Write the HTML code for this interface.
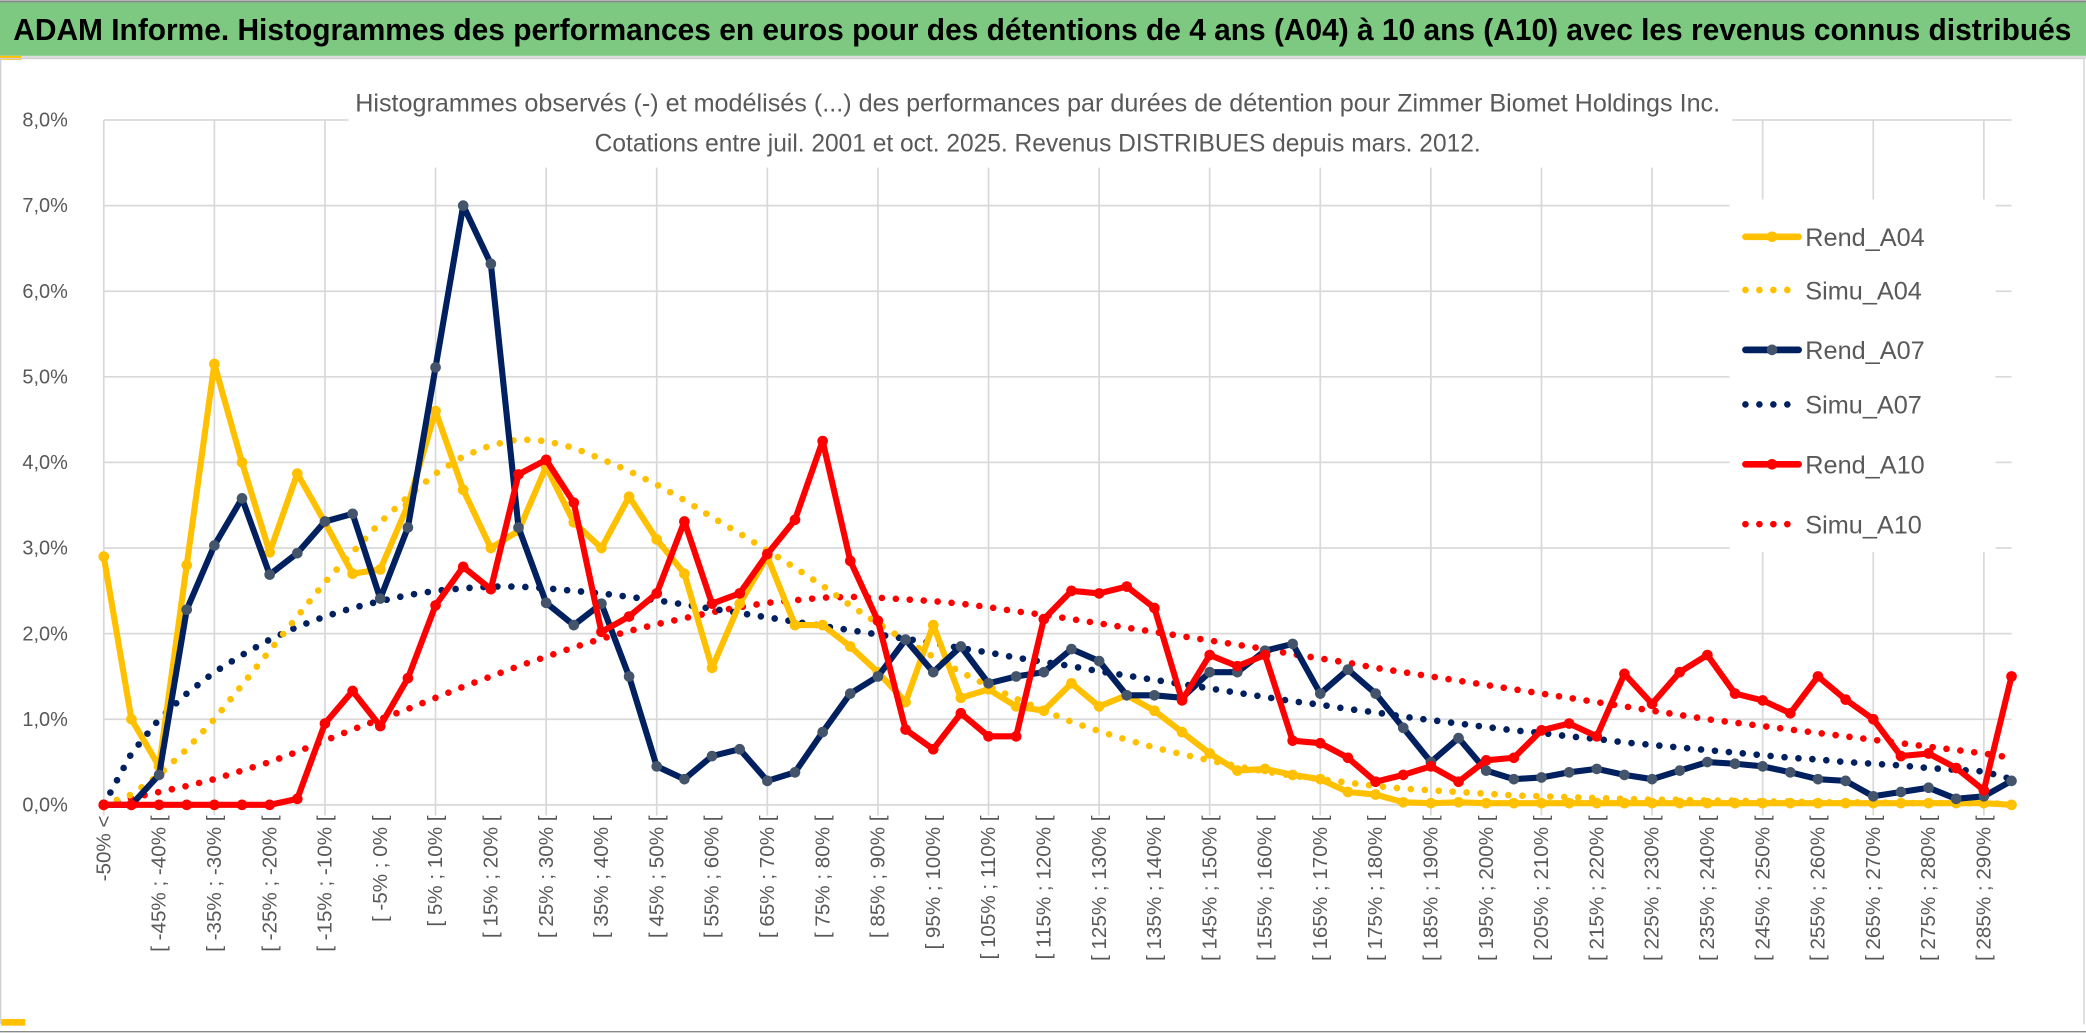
<!DOCTYPE html>
<html><head><meta charset="utf-8"><style>
html,body{margin:0;padding:0;background:#fff;}
svg{display:block;font-family:"Liberation Sans",sans-serif;}
</style></head><body>
<svg id="chart" width="2086" height="1033" viewBox="0 0 1568 776.5" preserveAspectRatio="none" xmlns="http://www.w3.org/2000/svg">
<rect x="0" y="0" width="1568" height="776.5" fill="#fff"/>
<rect x="0" y="1" width="1568" height="41" fill="#7dc981"/>
<line x1="0" y1="1" x2="1568" y2="1" stroke="#888" stroke-width="1.5"/>
<text x="10" y="30" font-size="23" font-weight="bold" fill="#000" textLength="1547" lengthAdjust="spacingAndGlyphs">ADAM Informe. Histogrammes des performances en euros pour des détentions de 4 ans (A04) à 10 ans (A10) avec les revenus connus distribués</text>
<rect x="0" y="42" width="1568" height="2" fill="#ddd"/>
<rect x="0" y="42" width="16" height="3" fill="#ffc000"/>
<rect x="0.5" y="44" width="1566" height="729" fill="none" stroke="#d0d0d0" stroke-width="1"/>
<rect x="0" y="770" width="1568" height="6" fill="#fff"/>
<line x1="0" y1="775.5" x2="1568" y2="775.5" stroke="#888" stroke-width="1"/>
<rect x="1" y="766" width="18" height="5" fill="#ffc000"/>
<g id="grid"></g>
<rect x="262" y="58" width="1040" height="68" fill="#fff"/>
<text x="780" y="84" font-size="19" fill="#595959" text-anchor="middle" textLength="1026" lengthAdjust="spacingAndGlyphs">Histogrammes observés (-) et modélisés (...) des performances par durées de détention pour Zimmer Biomet Holdings Inc.</text>
<text x="780" y="114" font-size="19" fill="#595959" text-anchor="middle" textLength="666" lengthAdjust="spacingAndGlyphs">Cotations entre juil. 2001 et oct. 2025. Revenus DISTRIBUES depuis mars. 2012.</text>
<g id="series"></g>
<g id="legend"></g>
</svg>
<script>
const rendA04=[2.9,1.0,0.45,2.8,5.15,4.0,2.95,3.87,3.3,2.7,2.75,3.5,4.6,3.68,3.0,3.2,3.95,3.3,3.0,3.6,3.1,2.7,1.6,2.35,2.9,2.1,2.1,1.85,1.55,1.2,2.1,1.25,1.35,1.15,1.1,1.42,1.15,1.28,1.1,0.85,0.6,0.4,0.42,0.35,0.3,0.15,0.12,0.03,0.02,0.03,0.02,0.02,0.02,0.02,0.02,0.02,0.02,0.02,0.02,0.02,0.02,0.02,0.02,0.02,0.02,0.02,0.02,0.02,0.02,0.0];
const rendA07=[0,0,0.35,2.28,3.03,3.58,2.69,2.94,3.31,3.4,2.41,3.24,5.11,7.0,6.32,3.24,2.36,2.1,2.35,1.5,0.45,0.3,0.57,0.65,0.28,0.38,0.85,1.3,1.5,1.93,1.55,1.85,1.42,1.5,1.55,1.82,1.68,1.28,1.28,1.25,1.55,1.55,1.8,1.88,1.3,1.58,1.3,0.9,0.5,0.78,0.4,0.3,0.32,0.38,0.42,0.35,0.3,0.4,0.5,0.48,0.45,0.38,0.3,0.28,0.1,0.15,0.2,0.07,0.1,0.28];
const rendA10=[0,0,0,0,0,0,0,0.07,0.95,1.33,0.92,1.48,2.33,2.78,2.52,3.86,4.03,3.53,2.02,2.2,2.47,3.31,2.35,2.47,2.93,3.33,4.25,2.85,2.15,0.88,0.65,1.07,0.8,0.8,2.17,2.5,2.47,2.55,2.3,1.22,1.75,1.62,1.75,0.75,0.72,0.55,0.27,0.35,0.45,0.27,0.52,0.55,0.87,0.95,0.8,1.53,1.18,1.55,1.75,1.3,1.22,1.07,1.5,1.23,1.0,0.57,0.6,0.43,0.17,1.5];
const simuA04=[0.0,0.12,0.35,0.65,1.0,1.4,1.8,2.2,2.6,2.95,3.3,3.6,3.87,4.07,4.2,4.27,4.25,4.17,4.04,3.9,3.74,3.56,3.36,3.17,2.97,2.77,2.56,2.33,2.12,1.92,1.73,1.55,1.39,1.24,1.1,0.97,0.86,0.76,0.67,0.59,0.52,0.45,0.39,0.34,0.3,0.26,0.22,0.19,0.17,0.15,0.13,0.11,0.1,0.09,0.08,0.07,0.06,0.06,0.05,0.05,0.04,0.04,0.03,0.03,0.03,0.02,0.02,0.02,0.02,0.01];
const simuA07=[0.0,0.6,1.0,1.3,1.55,1.75,1.93,2.08,2.2,2.3,2.38,2.45,2.5,2.53,2.55,2.55,2.53,2.5,2.47,2.43,2.39,2.34,2.29,2.24,2.19,2.14,2.09,2.04,1.99,1.94,1.89,1.83,1.78,1.72,1.67,1.62,1.56,1.51,1.46,1.41,1.36,1.31,1.26,1.21,1.17,1.12,1.08,1.03,0.99,0.95,0.91,0.87,0.84,0.8,0.77,0.73,0.7,0.67,0.64,0.61,0.58,0.55,0.53,0.5,0.48,0.46,0.43,0.41,0.39,0.3];
const simuA10=[0.0,0.08,0.15,0.22,0.3,0.4,0.5,0.62,0.75,0.88,1.0,1.12,1.25,1.38,1.5,1.62,1.73,1.84,1.94,2.03,2.11,2.18,2.25,2.31,2.36,2.39,2.42,2.43,2.42,2.4,2.38,2.35,2.31,2.26,2.22,2.17,2.12,2.07,2.02,1.97,1.92,1.87,1.82,1.76,1.71,1.66,1.6,1.55,1.5,1.45,1.4,1.35,1.3,1.25,1.2,1.15,1.1,1.05,1.0,0.96,0.92,0.88,0.84,0.8,0.76,0.72,0.68,0.64,0.6,0.55];
const yTicks=[0,1,2,3,4,5,6,7,8];
const categories=["-50% <"];
for(let k=1;k<70;k++){categories.push("[ "+(-55+5*k)+"% ; "+(-50+5*k)+"% [");}

const NS="http://www.w3.org/2000/svg";
const X0=78, X1=1512, Y0=605, YPER=64.35;
function xs(i){return X0+i*(X1-X0)/(categories.length-1);}
function ys(v){return Y0-v*YPER;}
function mk(tag,attrs,parent){const e=document.createElementNS(NS,tag);for(const k in attrs)e.setAttribute(k,attrs[k]);parent.appendChild(e);return e;}

const grid=document.getElementById('grid');
yTicks.forEach(t=>{
  const l=mk('line',{x1:X0,x2:X1,y1:ys(t),y2:ys(t),stroke:'#d9d9d9','stroke-width':1.3},grid);
  
  
  const tx=mk('text',{x:X0-27,y:ys(t)+5,'font-size':15,fill:'#595959','text-anchor':'end'},grid);
  tx.textContent=t.toFixed(1).replace('.',',')+'%';
  
  
});
categories.forEach((c,i)=>{
  if(i%4===0){
    const l=mk('line',{x1:xs(i),x2:xs(i),y1:ys(8),y2:Y0+8,stroke:'#d9d9d9','stroke-width':1.3},grid);
    
    
  }
  if(i%2===0){
    const x=xs(i)+5, y=Y0+8;
    const tx=mk('text',{x:x,y:y,'font-size':15.5,fill:'#595959','text-anchor':'end',transform:'rotate(-90 '+x+' '+y+')'},grid);
    tx.textContent=c;
    
    
  }
});

const series=document.getElementById('series');
function drawDotted(vals,color,name){
  const p=mk('polyline',{points:vals.map((v,i)=>xs(i)+','+ys(v)).join(' '),fill:'none',stroke:color,'stroke-width':5,'stroke-linecap':'round','stroke-dasharray':'0 10.5'},series);
  
  
}
function drawSolid(vals,color,mcolor,name){
  const g=mk('g',{},series);
  
  
  mk('polyline',{points:vals.map((v,i)=>xs(i)+','+ys(v)).join(' '),fill:'none',stroke:color,'stroke-width':4.6,'stroke-linejoin':'round'},g);
  vals.forEach((v,i)=>{
    const c=mk('circle',{cx:xs(i),cy:ys(v),r:4,fill:mcolor},g);
    
    
  });
}
drawDotted(simuA10,'#ff0000','simu-a10-line');
drawDotted(simuA07,'#002060','simu-a07-line');
drawDotted(simuA04,'#ffc000','simu-a04-line');
drawSolid(rendA04,'#ffc000','#ffc000','rend-a04-line');
drawSolid(rendA07,'#002060','#44546a','rend-a07-line');
drawSolid(rendA10,'#ff0000','#ff0000','rend-a10-line');

const legend=document.getElementById('legend');
const lg=[["Rend_A04","#ffc000","#ffc000",false,178],["Simu_A04","#ffc000",null,true,218],["Rend_A07","#002060","#44546a",false,263],["Simu_A07","#002060",null,true,304],["Rend_A10","#ff0000","#ff0000",false,349],["Simu_A10","#ff0000",null,true,394]];
const bg=mk('rect',{x:1300,y:150,width:200,height:265,fill:'#fff'},legend);


lg.forEach(e=>{
  const g=mk('g',{},legend);
  
  
  if(e[3]){
    mk('line',{x1:1312,x2:1353,y1:e[4],y2:e[4],stroke:e[1],'stroke-width':5,'stroke-linecap':'round','stroke-dasharray':'0 10.5'},g);
  }else{
    mk('line',{x1:1312,x2:1352,y1:e[4],y2:e[4],stroke:e[1],'stroke-width':5,'stroke-linecap':'round'},g);
    mk('circle',{cx:1332,cy:e[4],r:4,fill:e[2]},g);
  }
  const t=mk('text',{x:1357,y:e[4]+7,'font-size':19,fill:'#595959'},g);
  t.textContent=e[0];
});
</script>
</body></html>
